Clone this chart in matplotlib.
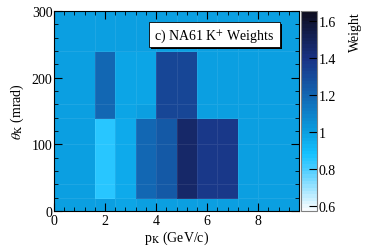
import numpy as np
import matplotlib
matplotlib.use("Agg")
import matplotlib.pyplot as plt
from matplotlib.colors import LinearSegmentedColormap
from matplotlib.patches import Rectangle
from matplotlib.ticker import MultipleLocator

plt.rcParams['font.family'] = ['Liberation Serif', 'DejaVu Serif']
plt.rcParams['mathtext.fontset'] = 'stix'

# bin edges
x_edges = [0, 1.6, 2.4, 3.2, 4.0, 4.8, 5.6, 6.4, 7.2, 8.0, 9.6]
y_edges = [0, 20, 40, 100, 140, 160, 240, 300]
# weights: rows = y bins (bottom to top), columns = x bins
weights = [
    [0.99, 0.99, 0.98, 0.99, 0.99, 0.99, 0.99, 0.99, 0.99, 0.99],
    [0.99, 0.86, 0.97, 1.20, 1.25, 1.46, 1.37, 1.37, 0.99, 0.99],
    [0.99, 0.86, 0.97, 1.20, 1.25, 1.46, 1.37, 1.37, 0.99, 0.99],
    [0.99, 0.86, 0.97, 1.20, 1.25, 1.46, 1.37, 1.37, 0.99, 0.99],
    [0.99, 1.20, 0.98, 0.99, 1.33, 1.33, 0.99, 0.99, 0.99, 0.99],
    [0.99, 1.20, 0.98, 0.98, 1.33, 1.33, 0.99, 0.99, 0.99, 0.99],
    [0.99, 0.99, 0.99, 0.99, 0.99, 0.99, 0.99, 0.99, 0.99, 0.99],
]
cbar_ticks = [0.6, 0.8, 1.0, 1.2, 1.4, 1.6]
cbar_labels = ['0.6', '0.8', '1', '1.2', '1.4', '1.6']
vmin, vmax = 0.575, 1.656

nodes = [
    (0.0, (0.97, 0.99, 1.0)),
    ((0.8 - vmin) / (vmax - vmin), (0.28, 0.80, 1.0)),
    ((0.88 - vmin) / (vmax - vmin), (0.08, 0.76, 1.0)),
    ((1.0 - vmin) / (vmax - vmin), (0.04, 0.62, 0.88)),
    ((1.2 - vmin) / (vmax - vmin), (0.07, 0.40, 0.70)),
    ((1.4 - vmin) / (vmax - vmin), (0.10, 0.20, 0.52)),
    (1.0, (0.05, 0.05, 0.12)),
]
cmap = LinearSegmentedColormap.from_list('root', nodes, N=60)

fig = plt.figure(figsize=(3.74, 2.53), dpi=100)
ax = fig.add_axes([54/374, 1 - 212/253, 245/374, 200/253])
cax = fig.add_axes([301/374, 1 - 212/253, 16/374, 200/253])

X, Y = np.meshgrid(x_edges, y_edges)
mesh = ax.pcolormesh(X, Y, np.array(weights), cmap=cmap, vmin=vmin, vmax=vmax,
                     edgecolors=(1, 1, 1, 0.08), linewidth=0.5)
ax.set_xlim(0, 9.6)
ax.set_ylim(0, 300)
ax.xaxis.set_major_locator(MultipleLocator(2))
ax.xaxis.set_minor_locator(MultipleLocator(0.4))
ax.yaxis.set_major_locator(MultipleLocator(100))
ax.yaxis.set_minor_locator(MultipleLocator(20))
ax.tick_params(which='both', direction='in', top=True, right=True, labelsize=10)
ax.tick_params(axis='x', pad=2)
ax.tick_params(axis='y', pad=1)
ax.tick_params(which='major', length=6, width=0.8)
ax.tick_params(which='minor', length=3, width=0.6)
ax.set_xlabel(r'p$_{\mathrm{K}}$ (GeV/c)', fontsize=10, labelpad=1)
ax.set_ylabel(r'$\theta_{\mathrm{K}}$ (mrad)', fontsize=10, labelpad=4)

# legend box with shadow
ax.add_patch(Rectangle((151/374, 1 - 50/253), 131/374, 25/253, transform=fig.transFigure,
                       facecolor='black', edgecolor='none', zorder=4, clip_on=False))
ax.add_patch(Rectangle((149/374, 1 - 48/253), 131/374, 25/253, transform=fig.transFigure,
                       facecolor='white', edgecolor='black', linewidth=0.6, zorder=5, clip_on=False))
fig.text(214/374, 1 - 36/253, r'c) NA61 K$^{+}$ Weights', ha='center', va='center',
         fontsize=10, zorder=6)

cb = fig.colorbar(mesh, cax=cax, ticks=cbar_ticks)
cb.ax.set_yticklabels(cbar_labels)
cb.ax.tick_params(direction='in', length=6, width=0.8, labelsize=10, pad=1, colors='black')
cb.outline.set_edgecolor('gray')
cb.outline.set_linewidth(0.8)
fig.text(355/374, 1 - 12/253, 'Weight', rotation=90, ha='center', va='top', fontsize=10)

fig.savefig('out.png', dpi=100)
